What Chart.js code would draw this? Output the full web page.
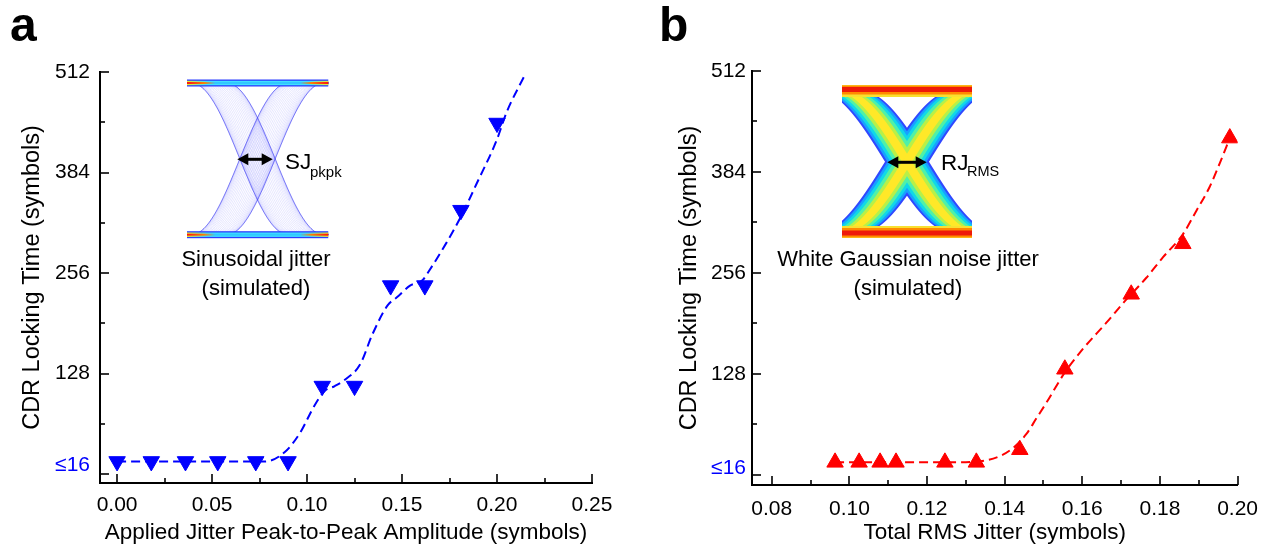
<!DOCTYPE html>
<html><head><meta charset="utf-8">
<script src="https://cdn.jsdelivr.net/npm/chart.js@4/dist/chart.umd.min.js"></script>
<style>
body{margin:0;background:#fff;width:1270px;height:548px;overflow:hidden;position:relative;font-family:"Liberation Sans",Arial,sans-serif;}
canvas{position:absolute;top:0;}
.t{position:absolute;white-space:nowrap;line-height:1;color:#000;}
.c{text-align:center;width:320px;}
</style></head><body>
<canvas id="ca" width="635" height="548" style="left:0"></canvas>
<canvas id="cb" width="635" height="548" style="left:635px"></canvas>
<div class="t" style="left:10px;top:1px;font-size:48px;font-weight:bold">a</div>
<div class="t" style="left:659px;top:1px;font-size:48px;font-weight:bold">b</div>
<div class="t c" style="left:96px;top:248px;font-size:22px">Sinusoidal jitter</div>
<div class="t c" style="left:96px;top:276.5px;font-size:22px">(simulated)</div>
<div class="t" style="left:285px;top:151px;font-size:22.5px">SJ</div>
<div class="t" style="left:310px;top:164px;font-size:15px">pkpk</div>
<div class="t c" style="left:748px;top:248px;font-size:22px">White Gaussian noise jitter</div>
<div class="t c" style="left:748px;top:276.5px;font-size:22px">(simulated)</div>
<div class="t" style="left:941px;top:151.5px;font-size:22.5px">RJ</div>
<div class="t" style="left:967px;top:164px;font-size:14.5px">RMS</div>
<script>
// ---------- data ----------
const sjX = [0, 0.018, 0.036, 0.053, 0.073, 0.09, 0.108, 0.125, 0.144, 0.162, 0.181, 0.2];
const sjY = [16, 16, 16, 16, 16, 16, 112, 112, 240, 240, 336, 447];
const sjFitX = [0, 0.02, 0.04, 0.06, 0.078, 0.0883, 0.0962, 0.1041, 0.1094, 0.1146, 0.1199, 0.1278, 0.1346, 0.1425, 0.1473, 0.1542, 0.1609, 0.1635, 0.1735, 0.1819, 0.1893, 0.1998, 0.2051, 0.2146];
const sjFitY = [16, 16, 16, 16, 16, 28, 52, 88, 106, 112, 120, 139, 179, 215, 225, 240, 247, 256, 295, 332, 370, 425, 461, 508];

const rjX = [0.0963, 0.1025, 0.1079, 0.112, 0.1246, 0.1327, 0.1439, 0.1555, 0.1726, 0.1859, 0.198];
const rjY = [16, 16, 16, 16, 16, 16, 32, 134, 229, 293, 427];
const rjFitX = [0.0963, 0.11, 0.125, 0.1327, 0.1388, 0.1421, 0.1456, 0.1482, 0.1508, 0.1555, 0.1602, 0.1662, 0.1709, 0.1765, 0.1808, 0.1859, 0.1894, 0.1928, 0.1954, 0.198];
const rjFitY = [16, 16, 16, 17, 24, 34, 52, 72, 92, 130, 160, 193, 220, 250, 276, 305, 335, 365, 395, 427];

const yMajor = [0, 128, 256, 384, 512];
const yMinor = [64, 192, 320, 448];
const yLabels = ['≤16', '128', '256', '384', '512'];
const xMajorA = [0, 0.05, 0.10, 0.15, 0.20, 0.25];
const xMinorA = [0.025, 0.075, 0.125, 0.175, 0.225];
const xMajorB = [0.08, 0.10, 0.12, 0.14, 0.16, 0.18, 0.20];
const xMinorB = [0.09, 0.11, 0.13, 0.15, 0.17, 0.19];

const FONT = 'Liberation Sans';
const pts = (xs, ys) => xs.map((x, i) => ({x, y: ys[i]}));

// ---------- plugins ----------
const inwardTicks = {
  id: 'inwardTicks',
  afterDraw(chart, args, o) {
    const ctx = chart.ctx, xs = chart.scales.x, ys = chart.scales.y, a = chart.chartArea;
    ctx.save();
    ctx.strokeStyle = '#000'; ctx.lineWidth = 1.6;
    const seg = (x1, y1, x2, y2) => { ctx.beginPath(); ctx.moveTo(x1, y1); ctx.lineTo(x2, y2); ctx.stroke(); };
    o.xMaj.forEach(v => { const p = Math.round(xs.getPixelForValue(v)); seg(p, a.bottom, p, a.bottom - 9); });
    o.xMin.forEach(v => { const p = Math.round(xs.getPixelForValue(v)); seg(p, a.bottom, p, a.bottom - 5); });
    o.yMaj.forEach(v => { const p = Math.round(ys.getPixelForValue(v)); seg(a.left, p, a.left + 9, p); });
    o.yMin.forEach(v => { const p = Math.round(ys.getPixelForValue(v)); seg(a.left, p, a.left + 5, p); });
    ctx.restore();
  }
};

function dblArrow(ctx, x1, x2, y) {
  ctx.save();
  ctx.strokeStyle = '#000'; ctx.fillStyle = '#000'; ctx.lineWidth = 3;
  ctx.beginPath(); ctx.moveTo(x1 + 8, y); ctx.lineTo(x2 - 8, y); ctx.stroke();
  ctx.beginPath(); ctx.moveTo(x1, y); ctx.lineTo(x1 + 11, y - 6); ctx.lineTo(x1 + 11, y + 6); ctx.closePath(); ctx.fill();
  ctx.beginPath(); ctx.moveTo(x2, y); ctx.lineTo(x2 - 11, y - 6); ctx.lineTo(x2 - 11, y + 6); ctx.closePath(); ctx.fill();
  ctx.restore();
}

function drawEyeSJ(ctx) {
  const L = 187, R = 328.5, T = 83, B = 234.7, c = 257.5, W = 97, J = 35.4, H = B - T;
  ctx.save();
  ctx.beginPath(); ctx.rect(L, 78, R - L, 162); ctx.clip();
  const curve = (s, dir) => {
    ctx.beginPath();
    for (let x = L - 2; x <= R + 2; x += 1) {
      const xx = dir === 1 ? x : 2 * c - x;
      const x0 = c - W / 2 + s;
      let y;
      if (xx <= x0) y = T; else if (xx >= x0 + W) y = B;
      else y = T + H * (1 - Math.cos(Math.PI * (xx - x0) / W)) / 2;
      if (x === L - 2) ctx.moveTo(x, y); else ctx.lineTo(x, y);
    }
    ctx.stroke();
  };
  ctx.lineWidth = 1;
  ctx.strokeStyle = 'rgba(70,70,255,0.065)';
  const N = 60;
  for (let k = 0; k < N; k++) {
    const s = J / 2 * Math.sin(2 * Math.PI * (k + 0.5) / N);
    curve(s, 1); curve(s, -1);
  }
  ctx.strokeStyle = 'rgba(40,40,240,0.5)';
  [-J / 2, J / 2].forEach(s => { curve(s, 1); curve(s, -1); });
  [T, B].forEach(y => {
    ctx.fillStyle = '#2b3dff'; ctx.fillRect(L, y - 3.5, R - L, 7);
    const g1 = ctx.createLinearGradient(L, 0, R, 0);
    g1.addColorStop(0, '#f0f020'); g1.addColorStop(0.14, '#40e0ff'); g1.addColorStop(0.86, '#40e0ff'); g1.addColorStop(1, '#f0f020');
    ctx.fillStyle = g1; ctx.fillRect(L, y - 2.2, R - L, 4.4);
    const g2 = ctx.createLinearGradient(L, 0, R, 0);
    g2.addColorStop(0, '#ff1010'); g2.addColorStop(0.12, '#ff8000'); g2.addColorStop(0.2, '#30c8ff'); g2.addColorStop(0.8, '#30c8ff'); g2.addColorStop(0.88, '#ff8000'); g2.addColorStop(1, '#ff1010');
    ctx.fillStyle = g2; ctx.fillRect(L, y - 1, R - L, 2);
  });
  ctx.restore();
  dblArrow(ctx, 237.3, 272.7, 159.3);
}

function drawEyeRJ(ctx, ox) {
  const L = 842 - ox, R = 972 - ox, T = 90, B = 233.5, c = 907 - ox, W = 140, H = B - T;
  ctx.save();
  ctx.beginPath(); ctx.rect(L, 84, R - L, 155); ctx.clip();
  const xAt = (y, s) => c - W / 2 + s + (W / Math.PI) * Math.acos(Math.max(-1, Math.min(1, 1 - 2 * (y - T) / H)));
  const arm = (d, dir) => {
    ctx.beginPath();
    const P = [];
    for (let y = T; y <= B + 0.01; y += 1) P.push([xAt(y, -d), y]);
    for (let y = B; y >= T - 0.01; y -= 1) P.push([xAt(y, d), y]);
    P.forEach((p, i) => {
      const x = dir === 1 ? p[0] : 2 * c - p[0];
      if (i === 0) ctx.moveTo(x, p[1]); else ctx.lineTo(x, p[1]);
    });
    ctx.closePath(); ctx.fill();
  };
  const layers = [[22, '#3048ff'], [19.5, '#18a0ff'], [16.5, '#10d8e8'], [13, '#50f0a8'], [9, '#b8f048'], [5, '#ffe828']];
  layers.forEach(([d, col]) => { ctx.fillStyle = col; arm(d, 1); arm(d, -1); });
  ctx.fillStyle = '#f8e030'; ctx.fillRect(L, 85, R - L, 12); ctx.fillRect(L, 226, R - L, 12);
  ctx.fillStyle = '#ff8a00'; ctx.fillRect(L, 85.5, R - L, 9); ctx.fillRect(L, 228, R - L, 9.5);
  ctx.fillStyle = '#ee1a0a'; ctx.fillRect(L, 87, R - L, 5); ctx.fillRect(L, 230.5, R - L, 5);
  ctx.restore();
  dblArrow(ctx, 887.3 - ox, 926.7 - ox, 162.3);
}

const insetA = { id: 'insetA', afterDraw(chart) { drawEyeSJ(chart.ctx); } };
const insetB = { id: 'insetB', afterDraw(chart) { drawEyeRJ(chart.ctx, 635); } };

// ---------- chart builder ----------
function makeChart(id, cfg) {
  return new Chart(document.getElementById(id), {
    type: 'scatter',
    data: {
      datasets: [
        {
          data: cfg.pts, showLine: false,
          pointStyle: 'triangle', rotation: cfg.rot, pointRadius: 9.5, pointHoverRadius: 9.5,
          backgroundColor: cfg.color, borderColor: cfg.color, pointBorderWidth: 1
        },
        {
          data: cfg.fit, showLine: true, pointRadius: 0, pointHoverRadius: 0,
          borderColor: cfg.color, borderWidth: 2, borderDash: [9, 5],
          cubicInterpolationMode: 'monotone', fill: false
        }
      ]
    },
    options: {
      responsive: false, animation: false, devicePixelRatio: 1,
      layout: {padding: {left: 0, right: cfg.padR, top: cfg.padT, bottom: 0}},
      plugins: {
        legend: {display: false}, tooltip: {enabled: false},
        inwardTicks: {xMaj: cfg.xMaj, xMin: cfg.xMin, yMaj: yMajor, yMin: yMinor}
      },
      scales: {
        x: {
          type: 'linear', min: cfg.xmin, max: cfg.xmax,
          afterBuildTicks: s => { s.ticks = cfg.xMaj.map(v => ({value: v})); },
          afterFit: s => { s.height = cfg.xh; },
          ticks: {callback: v => v.toFixed(2), font: {family: FONT, size: 21}, color: '#000', padding: cfg.xpad, maxRotation: 0, autoSkip: false},
          grid: {display: false, drawTicks: false},
          border: {display: true, color: '#000', width: 2},
          title: {display: true, text: cfg.xtitle, font: {family: FONT, size: 22.5}, color: '#000', padding: {top: 0, bottom: 2}}
        },
        y: {
          type: 'linear', min: cfg.ymin, max: 512,
          afterBuildTicks: s => { s.ticks = yMajor.map(v => ({value: v})); },
          afterFit: s => { s.width = cfg.yw; },
          ticks: {
            callback: (v) => { const i = yMajor.indexOf(v); return v === 0 ? [yLabels[i], ''] : yLabels[i]; },
            font: {family: FONT, size: 21, lineHeight: cfg.lowLH},
            color: c => (c.tick && c.tick.value === 0) ? '#0000ff' : '#000',
            padding: cfg.ypad, autoSkip: false
          },
          grid: {display: false, drawTicks: false},
          border: {display: true, color: '#000', width: 2},
          title: {display: true, text: 'CDR Locking Time (symbols)', font: {family: FONT, size: 23.5}, color: '#000', padding: {top: cfg.ytp, bottom: 0}}
        }
      }
    },
    plugins: [inwardTicks, cfg.inset]
  });
}

makeChart('ca', {
  pts: pts(sjX, sjY), fit: pts(sjFitX, sjFitY), color: '#0000ff', rot: 180,
  padR: 43, padT: 72, xh: 65, yw: 100, xmin: -0.009, xmax: 0.25, ymin: -11.45,
  xMaj: xMajorA, xMin: xMinorA, xpad: 10, ypad: 10, ytp: 18.4, lowLH: 0.857,
  xtitle: 'Applied Jitter Peak-to-Peak Amplitude (symbols)', inset: insetA
});
makeChart('cb', {
  pts: pts(rjX, rjY), fit: pts(rjFitX, rjFitY), color: '#ff0000', rot: 0,
  padR: 32, padT: 71, xh: 63, yw: 117, xmin: 0.0749, xmax: 0.20, ymin: -12.7,
  xMaj: xMajorB, xMin: xMinorB, xpad: 12, ypad: 6, ytp: 40.9, lowLH: 0.686,
  xtitle: 'Total RMS Jitter (symbols)', inset: insetB
});
</script>
</body></html>
